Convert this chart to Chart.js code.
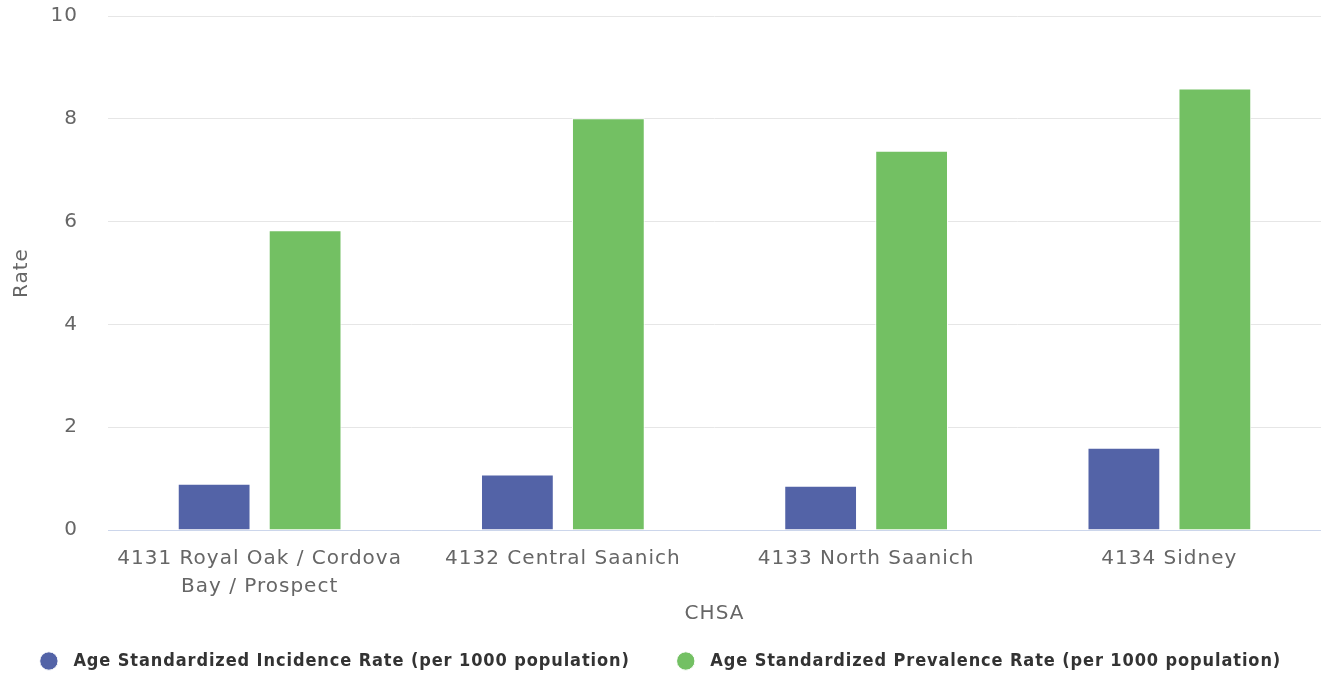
<!DOCTYPE html>
<html>
<head>
<meta charset="utf-8">
<script src="https://cdn.jsdelivr.net/npm/chart.js@4.4.1/dist/chart.umd.min.js"></script>
<style>
html,body{margin:0;padding:0;background:#fff;}
#wrap{width:1321px;height:677px;position:relative;}
</style>
</head>
<body>
<div id="wrap"><canvas id="c"></canvas></div>
<script>
const categories = [["4131 Royal Oak / Cordova", "Bay / Prospect"], "4132 Central Saanich", "4133 North Saanich", "4134 Sidney"];
const incidenceRate = [0.9, 1.08, 0.86, 1.6];
const prevalenceRate = [5.83, 8.01, 7.38, 8.59];
const seriesNames = ["Age Standardized Incidence Rate (per 1000 population)", "Age Standardized Prevalence Rate (per 1000 population)"];
const yTicks = [0, 2, 4, 6, 8, 10];

const blue = "#5363a7";
const green = "#73c063";
const legendSpacing = '0.9px';

const spacingPlugin = {
  id: 'spacing',
  afterInit(chart) {
    const lg = chart.legend;
    if (!lg) return;
    const origFit = lg.fit.bind(lg);
    lg.fit = function () {
      const c = this.ctx; const o = c.letterSpacing;
      const mw = this.maxWidth;
      c.letterSpacing = legendSpacing;
      this.maxWidth = mw + 300;
      origFit();
      this.maxWidth = mw;
      c.letterSpacing = o;
      this.width = mw;
      this.height = 47;
    };
    const origDraw = lg.draw.bind(lg);
    lg.draw = function () {
      const c = this.ctx; const o = c.letterSpacing;
      const t = this.top, l = this.left, r = this.right;
      c.letterSpacing = legendSpacing;
      this.top = t - 25;
      this.left = l - 40;
      this.right = r + 40;
      origDraw();
      this.top = t; this.left = l; this.right = r;
      c.letterSpacing = o;
    };
  },
  beforeUpdate(chart) { chart.ctx.letterSpacing = '1px'; },
  beforeLayout(chart) { chart.ctx.letterSpacing = '1px'; },
  beforeDraw(chart) { chart.ctx.letterSpacing = '1px'; }
};

new Chart(document.getElementById('c'), {
  type: 'bar',
  data: {
    labels: categories,
    datasets: [
      {label: ' ' + seriesNames[0], data: incidenceRate, backgroundColor: blue, borderColor: '#ffffff', borderWidth: 1, categoryPercentage: 0.6, barPercentage: 0.8},
      {label: ' ' + seriesNames[1], data: prevalenceRate, backgroundColor: green, borderColor: '#ffffff', borderWidth: 1, categoryPercentage: 0.6, barPercentage: 0.8}
    ]
  },
  plugins: [spacingPlugin],
  options: {
    responsive: true,
    maintainAspectRatio: false,
    animation: false,
    layout: {padding: {top: 16, right: 0, left: 0, bottom: 0}},
    plugins: {
      tooltip: {enabled: false},
      legend: {
        position: 'bottom',
        labels: {
          usePointStyle: true,
          pointStyle: 'circle',
          boxWidth: 18,
          boxHeight: 13,
          padding: 47,
          color: '#333333',
          font: {family: 'DejaVu Sans Condensed', size: 18, weight: 'bold'}
        }
      }
    },
    scales: {
      x: {
        grid: {display: false, drawTicks: false},
        border: {display: true, color: '#ccd6eb', width: 1},
        ticks: {color: '#666666', font: {family: 'DejaVu Sans', size: 20, lineHeight: 1.4}, padding: 15, maxRotation: 0, autoSkip: false},
        title: {display: true, text: 'CHSA', color: '#666666', font: {family: 'DejaVu Sans', size: 20}, padding: {top: 0, bottom: 4}},
        afterFit: (s) => { s.height = 100; }
      },
      y: {
        min: 0, max: 10,
        afterBuildTicks: (s) => { s.ticks = yTicks.map(v => ({value: v})); },
        grid: {color: '#e6e6e6', drawTicks: false},
        border: {display: false},
        ticks: {color: '#666666', font: {family: 'DejaVu Sans', size: 20}, padding: 30},
        title: {display: true, text: 'Rate', color: '#666666', font: {family: 'DejaVu Sans', size: 20}, padding: {top: 10, bottom: 0}},
        afterFit: (s) => { s.width = 108; s.paddingTop = 12; s.paddingBottom = 12; }
      }
    }
  }
});
</script>
</body>
</html>
